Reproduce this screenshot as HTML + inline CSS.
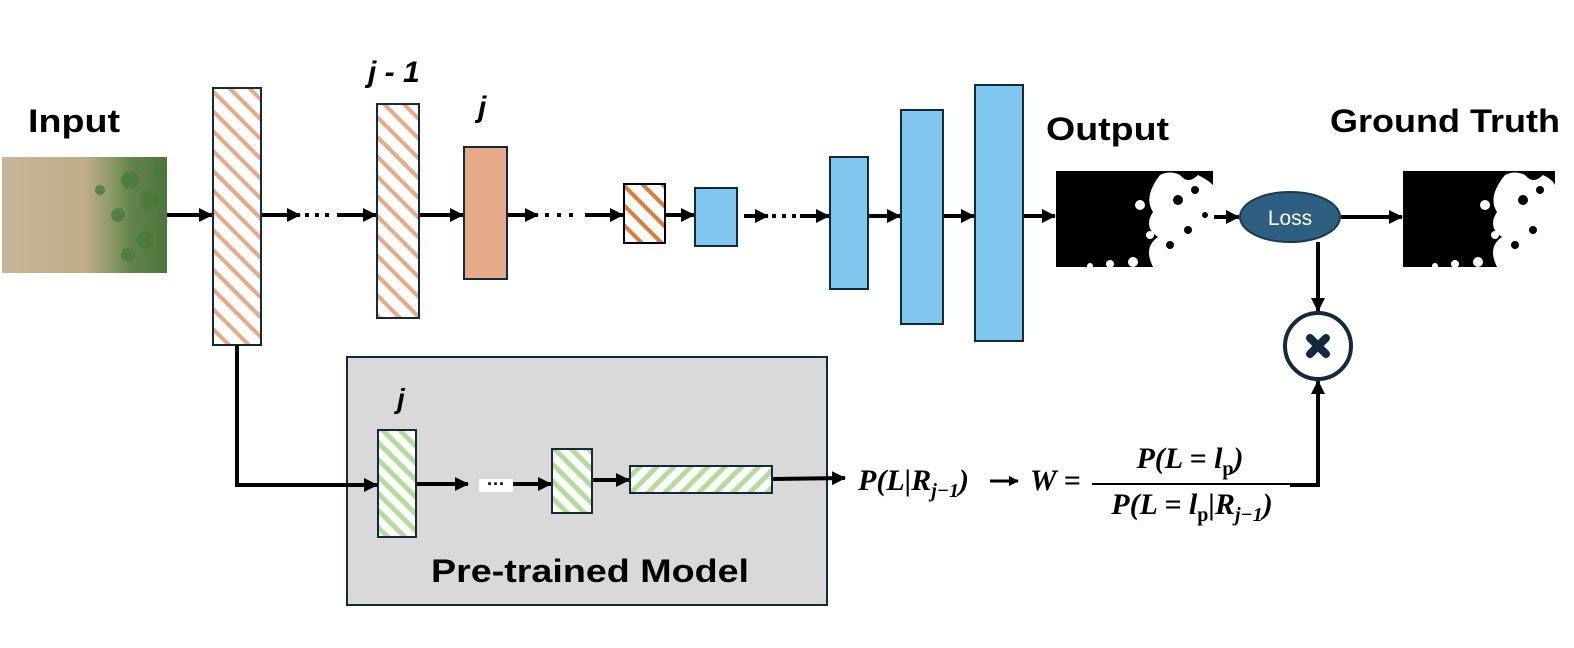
<!DOCTYPE html>
<html><head><meta charset="utf-8"><style>
html,body{margin:0;padding:0;background:#fff;}
svg{display:block;}
.lbl{font-family:"Liberation Sans",sans-serif;font-weight:bold;fill:#000;}
.m{font-family:"Liberation Serif",serif;font-weight:bold;font-style:italic;fill:#000;font-size:30px;}
</style></head><body>
<svg width="1574" height="648" viewBox="0 0 1574 648" xmlns="http://www.w3.org/2000/svg">
<defs>
<pattern id="po" width="14" height="14" patternUnits="userSpaceOnUse" patternTransform="rotate(-45)">
<rect width="14" height="14" fill="#fff"/><rect width="4" height="14" fill="#e8a984"/></pattern>
<pattern id="po2" width="14" height="14" patternUnits="userSpaceOnUse" patternTransform="rotate(-45)">
<rect width="14" height="14" fill="#fff"/><rect width="4" height="14" fill="#e07a3a"/></pattern>
<pattern id="pg" width="12" height="12" patternUnits="userSpaceOnUse" patternTransform="rotate(-45)">
<rect width="12" height="12" fill="#fff"/><rect width="5" height="12" fill="#b6dc9c"/></pattern>
<pattern id="pg2" width="12" height="12" patternUnits="userSpaceOnUse" patternTransform="rotate(45)">
<rect width="12" height="12" fill="#fff"/><rect width="5" height="12" fill="#b6dc9c"/></pattern>
<marker id="ar" markerWidth="10" markerHeight="10" refX="9" refY="5" orient="auto" markerUnits="userSpaceOnUse" viewBox="0 0 10 10">
<path d="M0,0 L10,5 L0,10 z" fill="#000"/></marker>
<marker id="ar2" markerWidth="14" markerHeight="14" refX="13" refY="7" orient="auto" markerUnits="userSpaceOnUse" viewBox="0 0 14 14">
<path d="M0,0 L14,7 L0,14 z" fill="#000"/></marker>
<linearGradient id="soil" x1="0" x2="1" y1="0" y2="0">
<stop offset="0" stop-color="#c8b597"/><stop offset="0.5" stop-color="#c2ad8a"/><stop offset="0.65" stop-color="#8e9a6a"/><stop offset="0.8" stop-color="#5f8348"/><stop offset="1" stop-color="#4f7440"/></linearGradient>
</defs>

<text class="lbl" x="28" y="132" font-size="32" textLength="92" lengthAdjust="spacingAndGlyphs">Input</text>
<text class="lbl" x="1046" y="140" font-size="32" textLength="123" lengthAdjust="spacingAndGlyphs">Output</text>
<text class="lbl" x="1330" y="132" font-size="32" textLength="230" lengthAdjust="spacingAndGlyphs">Ground Truth</text>
<text class="lbl" x="368" y="82" font-size="30" font-style="italic">j - 1</text>
<text class="lbl" x="478" y="117" font-size="30" font-style="italic">j</text>

<rect x="2" y="157" width="165" height="116" fill="url(#soil)"/>
<g fill="#4a7a3c" opacity="0.8">
<circle cx="130" cy="180" r="9"/><circle cx="150" cy="200" r="10"/><circle cx="118" cy="215" r="7"/><circle cx="145" cy="240" r="9"/><circle cx="160" cy="170" r="7"/><circle cx="100" cy="190" r="5"/><circle cx="128" cy="255" r="7"/></g>

<g stroke="#000" stroke-width="4" fill="none">
<line x1="167" y1="215" x2="212" y2="215" marker-end="url(#ar2)"/>
<line x1="262" y1="215" x2="300" y2="215" marker-end="url(#ar2)"/>
<line x1="337" y1="215" x2="376" y2="215" marker-end="url(#ar2)"/>
<line x1="420" y1="215" x2="463" y2="215" marker-end="url(#ar2)"/>
<line x1="508" y1="215" x2="538" y2="215" marker-end="url(#ar2)"/>
<line x1="585" y1="215" x2="623" y2="215" marker-end="url(#ar2)"/>
<line x1="666" y1="215" x2="694" y2="215" marker-end="url(#ar2)"/>
<line x1="744" y1="216" x2="768" y2="216" marker-end="url(#ar2)"/>
<line x1="800" y1="216" x2="829" y2="216" marker-end="url(#ar2)"/>
<line x1="869" y1="216" x2="900" y2="216" marker-end="url(#ar2)"/>
<line x1="944" y1="216" x2="974" y2="216" marker-end="url(#ar2)"/>
<line x1="1024" y1="216" x2="1055" y2="216" marker-end="url(#ar2)"/>
<line x1="1214" y1="217" x2="1239" y2="217" marker-end="url(#ar2)"/>
<line x1="1341" y1="217" x2="1402" y2="217" marker-end="url(#ar2)"/>
<line x1="1318" y1="242" x2="1318" y2="311" marker-end="url(#ar2)"/>
</g>
<g fill="#000">
<rect x="305" y="213" width="4" height="4"/><rect x="315" y="213" width="4" height="4"/><rect x="325" y="213" width="4" height="4"/>
<rect x="545" y="213" width="4" height="4"/><rect x="557" y="213" width="4" height="4"/><rect x="569" y="213" width="4" height="4"/>
<rect x="772" y="214" width="4" height="4"/><rect x="782" y="214" width="4" height="4"/><rect x="792" y="214" width="4" height="4"/>
</g>

<g stroke="#13293d" stroke-width="2">
<rect x="213" y="88" width="48" height="257" fill="url(#po)"/>
<rect x="377" y="104" width="42" height="214" fill="url(#po)"/>
<rect x="464" y="147" width="43" height="132" fill="#e6aa88"/>
<rect x="624" y="184" width="41" height="59" fill="url(#po2)" stroke="#000"/>
<rect x="695" y="188" width="42" height="58" fill="#7fc7ef"/>
<rect x="830" y="157" width="38" height="132" fill="#7fc7ef"/>
<rect x="901" y="110" width="42" height="214" fill="#7fc7ef"/>
<rect x="975" y="85" width="48" height="256" fill="#7fc7ef"/>
</g>

<g>
<rect x="1056" y="171" width="157" height="96" fill="#000"/>
<g fill="#fff">
<path d="M1160,175 q10,-5 20,0 q8,10 18,0 q10,5 15,10 v82 h-60 q-10,-20 5,-30 q-15,-10 -5,-25 q-10,-15 7,-37z"/>
<circle cx="1140" cy="205" r="5"/><circle cx="1150" cy="235" r="4"/><circle cx="1133" cy="262" r="5"/><circle cx="1110" cy="264" r="4"/><circle cx="1090" cy="266" r="3"/>
</g>
<g fill="#000"><circle cx="1178" cy="200" r="5"/><circle cx="1195" cy="190" r="4"/><circle cx="1188" cy="230" r="4"/><circle cx="1170" cy="245" r="4"/><circle cx="1205" cy="215" r="3"/></g>
<rect x="1403" y="171" width="152" height="96" fill="#000"/>
<g fill="#fff">
<path d="M1505,175 q10,-5 20,0 q8,10 18,0 q10,5 12,10 v82 h-58 q-10,-20 5,-30 q-15,-10 -5,-25 q-10,-15 8,-37z"/>
<circle cx="1485" cy="205" r="5"/><circle cx="1495" cy="235" r="4"/><circle cx="1478" cy="262" r="5"/><circle cx="1455" cy="264" r="4"/><circle cx="1435" cy="266" r="3"/>
</g>
<g fill="#000"><circle cx="1523" cy="200" r="5"/><circle cx="1540" cy="190" r="4"/><circle cx="1533" cy="230" r="4"/><circle cx="1515" cy="245" r="4"/></g>
</g>

<ellipse cx="1290" cy="217" rx="50" ry="25" fill="#2e5f80" stroke="#1b3a52" stroke-width="2"/>
<text x="1290" y="225" text-anchor="middle" font-family="Liberation Sans,sans-serif" font-size="21" fill="#fff">Loss</text>

<circle cx="1318" cy="346" r="33" fill="#fff" stroke="#13293d" stroke-width="4"/>
<g stroke="#13293d" stroke-width="8" stroke-linecap="round"><line x1="1310" y1="338" x2="1326" y2="354"/><line x1="1326" y1="338" x2="1310" y2="354"/></g>

<rect x="347" y="357" width="480" height="248" fill="#d9d9d9" stroke="#13293d" stroke-width="2"/>
<text class="lbl" x="397" y="408" font-size="28" font-style="italic">j</text>
<text class="lbl" x="590" y="582" font-size="32" text-anchor="middle" textLength="318" lengthAdjust="spacingAndGlyphs">Pre-trained Model</text>

<g stroke="#000" stroke-width="4" fill="none">
<polyline points="237,345 237,485 377,485" marker-end="url(#ar2)"/>
<line x1="417" y1="484" x2="468" y2="484" marker-end="url(#ar2)"/>
<line x1="513" y1="484" x2="551" y2="484" marker-end="url(#ar2)"/>
<line x1="593" y1="480" x2="629" y2="480" marker-end="url(#ar2)"/>
<line x1="773" y1="479" x2="845" y2="478" marker-end="url(#ar2)"/>
<polyline points="1290,485 1318,485 1318,381" marker-end="url(#ar2)"/>
</g>
<rect x="479" y="479" width="34" height="13" fill="#fff"/>
<text x="496" y="490" text-anchor="middle" font-family="Liberation Sans,sans-serif" font-weight="bold" font-size="18">···</text>

<g stroke="#13293d" stroke-width="2">
<rect x="378" y="430" width="38" height="107" fill="url(#pg)"/>
<rect x="552" y="449" width="40" height="64" fill="url(#pg)"/>
<rect x="630" y="466" width="142" height="27" fill="url(#pg2)"/>
</g>

<text class="m" x="858" y="490">P(L|R<tspan font-size="20" dy="7">j−1</tspan><tspan dy="-7">)</tspan></text>
<line x1="990" y1="481" x2="1018" y2="481" stroke="#000" stroke-width="3" marker-end="url(#ar)"/>
<text class="m" x="1030" y="490">W =</text>
<line x1="1092" y1="484" x2="1290" y2="484" stroke="#000" stroke-width="2"/>
<text class="m" x="1190" y="468" text-anchor="middle">P(L = l<tspan font-size="20" dy="7" font-style="normal">p</tspan><tspan dy="-7">)</tspan></text>
<text class="m" x="1192" y="514" text-anchor="middle">P(L = l<tspan font-size="20" dy="7" font-style="normal">p</tspan><tspan dy="-7">|R</tspan><tspan font-size="20" dy="7">j−1</tspan><tspan dy="-7">)</tspan></text>
</svg>
</body></html>
